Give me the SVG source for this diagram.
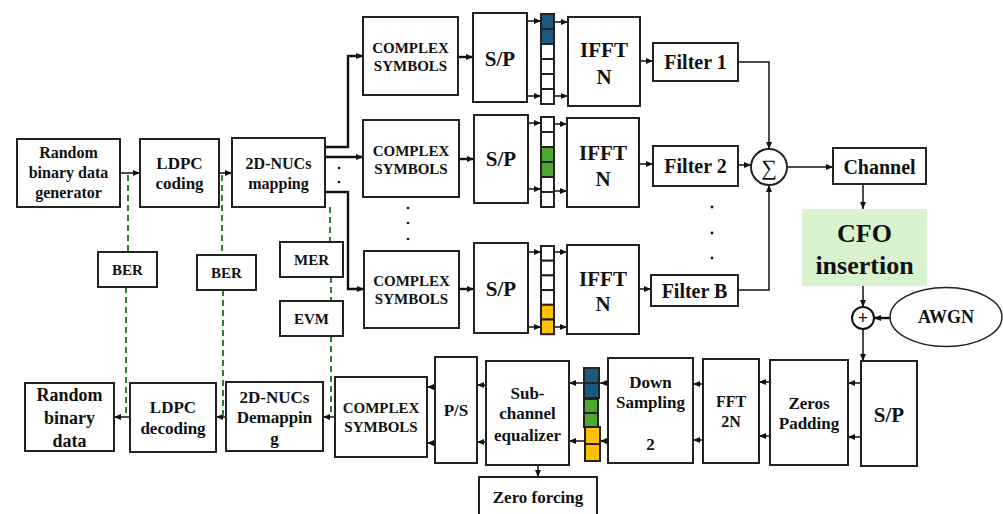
<svg xmlns="http://www.w3.org/2000/svg" width="1003" height="514" viewBox="0 0 1003 514">
<style>
.box{fill:#fff;stroke:#222;stroke-width:2}
.t{font-family:"Liberation Serif","Times New Roman",serif;font-weight:bold;fill:#111;text-anchor:middle}
.cs{font-size:15px}
.ln{stroke:#111;stroke-width:1.5;fill:none}
.thk{stroke-width:2.4}
.dash{stroke:#2e7d32;stroke-width:2;stroke-dasharray:6 4;fill:none}
.cell{stroke:#222;stroke-width:2;fill:#fff}
.blue{fill:#1b5a7e}
.green{fill:#4ea72e}
.yel{fill:#ffc000}
.dot{fill:#111}
</style>
<defs>
<marker id="a" markerUnits="userSpaceOnUse" markerWidth="8" markerHeight="8" refX="7" refY="4" orient="auto">
<path d="M0,1 L7,4 L0,7 z" fill="#111"/>
</marker>
</defs>

<g id="connectors">
<line class="ln" x1="120" y1="173" x2="140" y2="173" marker-end="url(#a)"/>
<line class="ln" x1="219" y1="173" x2="232" y2="173" marker-end="url(#a)"/>
<polyline class="ln thk" points="325,147 348,147 348,56 363,56" marker-end="url(#a)"/>
<line class="ln thk" x1="325" y1="157" x2="363" y2="157" marker-end="url(#a)"/>
<polyline class="ln thk" points="325,192 348,192 348,289 364,289" marker-end="url(#a)"/>
<line class="ln thk" x1="458" y1="57" x2="473" y2="57" marker-end="url(#a)"/>
<line class="ln thk" x1="459" y1="159" x2="474" y2="159" marker-end="url(#a)"/>
<line class="ln thk" x1="459" y1="289" x2="474" y2="289" marker-end="url(#a)"/>
<line class="ln" x1="527" y1="21" x2="541" y2="21" marker-end="url(#a)"/>
<line class="ln" x1="527" y1="96" x2="541" y2="96" marker-end="url(#a)"/>
<line class="ln" x1="528" y1="123" x2="541" y2="123" marker-end="url(#a)"/>
<line class="ln" x1="528" y1="189" x2="541" y2="189" marker-end="url(#a)"/>
<line class="ln" x1="528" y1="252" x2="541" y2="252" marker-end="url(#a)"/>
<line class="ln" x1="528" y1="327" x2="541" y2="327" marker-end="url(#a)"/>
<line class="ln" x1="554" y1="22" x2="568" y2="22" marker-end="url(#a)"/>
<line class="ln" x1="554" y1="96" x2="568" y2="96" marker-end="url(#a)"/>
<line class="ln" x1="554" y1="124" x2="567" y2="124" marker-end="url(#a)"/>
<line class="ln" x1="554" y1="191" x2="567" y2="191" marker-end="url(#a)"/>
<line class="ln" x1="554" y1="252" x2="567" y2="252" marker-end="url(#a)"/>
<line class="ln" x1="554" y1="327" x2="567" y2="327" marker-end="url(#a)"/>
<line class="ln" x1="640" y1="61" x2="653" y2="61" marker-end="url(#a)"/>
<line class="ln" x1="639" y1="164" x2="653" y2="164" marker-end="url(#a)"/>
<line class="ln" x1="639" y1="289" x2="651" y2="289" marker-end="url(#a)"/>
<polyline class="ln" points="738,62 769,62 769,149" marker-end="url(#a)"/>
<line class="ln" x1="738" y1="165" x2="751" y2="165" marker-end="url(#a)"/>
<polyline class="ln" points="738,290 769,290 769,185" marker-end="url(#a)"/>
<line class="ln" x1="787" y1="167" x2="833" y2="167" marker-end="url(#a)"/>
<line class="ln" x1="863" y1="184" x2="863" y2="209" marker-end="url(#a)"/>
<line class="ln" x1="863" y1="286" x2="863" y2="307" marker-end="url(#a)"/>
<line class="ln thk" x1="890" y1="318" x2="874" y2="318" marker-end="url(#a)"/>
<line class="ln" x1="863" y1="329" x2="863" y2="361" marker-end="url(#a)"/>
<line class="ln" x1="861" y1="383" x2="848" y2="383" marker-end="url(#a)"/>
<line class="ln" x1="861" y1="437" x2="848" y2="437" marker-end="url(#a)"/>
<line class="ln" x1="770" y1="382" x2="759" y2="382" marker-end="url(#a)"/>
<line class="ln" x1="770" y1="436" x2="759" y2="436" marker-end="url(#a)"/>
<line class="ln" x1="703" y1="384" x2="693" y2="384" marker-end="url(#a)"/>
<line class="ln" x1="703" y1="440" x2="693" y2="440" marker-end="url(#a)"/>
<line class="ln" x1="608" y1="383" x2="600" y2="383" marker-end="url(#a)"/>
<line class="ln" x1="608" y1="441" x2="600" y2="441" marker-end="url(#a)"/>
<line class="ln" x1="584" y1="383" x2="569" y2="383" marker-end="url(#a)"/>
<line class="ln" x1="584" y1="441" x2="569" y2="441" marker-end="url(#a)"/>
<line class="ln" x1="486" y1="385" x2="477" y2="385" marker-end="url(#a)"/>
<line class="ln" x1="486" y1="442" x2="477" y2="442" marker-end="url(#a)"/>
<line class="ln" x1="435" y1="387" x2="427" y2="387" marker-end="url(#a)"/>
<line class="ln" x1="435" y1="443" x2="427" y2="443" marker-end="url(#a)"/>
<line class="ln" x1="335" y1="417" x2="323" y2="417" marker-end="url(#a)"/>
<line class="ln" x1="226" y1="417" x2="216" y2="417" marker-end="url(#a)"/>
<line class="ln" x1="130" y1="417" x2="114" y2="417" marker-end="url(#a)"/>
<line class="ln" x1="538" y1="465" x2="538" y2="477" marker-end="url(#a)"/>
<line class="dash" x1="128" y1="175" x2="128" y2="252"/>
<line class="dash" x1="126" y1="287" x2="126" y2="416"/>
<line class="dash" x1="222" y1="175" x2="222" y2="255"/>
<line class="dash" x1="223" y1="290" x2="223" y2="416"/>
<line class="dash" x1="330" y1="207" x2="330" y2="242"/>
<line class="dash" x1="331" y1="277" x2="331" y2="301"/>
<line class="dash" x1="331" y1="336" x2="331" y2="416"/>
</g>

<g id="dots">
<circle class="dot" cx="339" cy="168" r="1.3"/><circle class="dot" cx="339" cy="182" r="1.3"/>
<circle class="dot" cx="408" cy="208" r="1.3"/><circle class="dot" cx="408" cy="223" r="1.3"/><circle class="dot" cx="408" cy="239" r="1.3"/>
<circle class="dot" cx="712" cy="207" r="1.4"/><circle class="dot" cx="712" cy="233" r="1.4"/><circle class="dot" cx="712" cy="258" r="1.4"/>
</g>

<g id="gen"><rect class="box" x="17" y="139" width="103" height="68"/>
<text class="t" font-size="16" x="68.5" y="158">Random</text><text class="t" font-size="16" x="68.5" y="178">binary data</text><text class="t" font-size="16" x="68.5" y="198">generator</text></g>
<g id="ldpc"><rect class="box" x="140" y="139" width="79" height="68"/>
<text class="t" font-size="17" x="179.5" y="169">LDPC</text><text class="t" font-size="17" x="179.5" y="189">coding</text></g>
<g id="map"><rect class="box" x="232" y="138" width="93" height="69"/>
<text class="t" font-size="16" x="278.5" y="169">2D-NUCs</text><text class="t" font-size="16" x="278.5" y="189">mapping</text></g>
<g id="ber1"><rect class="box" x="98" y="252" width="59" height="35"/><text class="t" font-size="15" x="127.5" y="275">BER</text></g>
<g id="ber2"><rect class="box" x="197" y="255" width="59" height="35"/><text class="t" font-size="15" x="226.5" y="278">BER</text></g>
<g id="mer"><rect class="box" x="280" y="242" width="63" height="35"/><text class="t" font-size="15" x="311.5" y="265">MER</text></g>
<g id="evm"><rect class="box" x="280" y="301" width="63" height="35"/><text class="t" font-size="15" x="311.5" y="324">EVM</text></g>

<g id="cs1"><rect class="box" x="363" y="17" width="95" height="78"/>
<text class="t cs" x="410.5" y="53">COMPLEX</text><text class="t cs" x="410.5" y="71">SYMBOLS</text></g>
<g id="sp1"><rect class="box" x="473" y="13" width="54" height="89"/><text class="t" font-size="21" x="500" y="66">S/P</text></g>
<g id="cells1">
<rect class="cell blue" x="541" y="14" width="13" height="15"/><rect class="cell blue" x="541" y="29" width="13" height="15"/>
<rect class="cell" x="541" y="44" width="13" height="15"/><rect class="cell" x="541" y="59" width="13" height="15"/>
<rect class="cell" x="541" y="74" width="13" height="15"/><rect class="cell" x="541" y="89" width="13" height="15"/></g>
<g id="ifft1"><rect class="box" x="568" y="17" width="72" height="89"/>
<text class="t" font-size="21" x="604" y="57">IFFT</text><text class="t" font-size="21" x="604" y="84">N</text></g>
<g id="f1"><rect class="box" x="653" y="43" width="85" height="38"/><text class="t" font-size="20" x="695.5" y="69">Filter 1</text></g>

<g id="cs2"><rect class="box" x="363" y="120" width="96" height="77"/>
<text class="t cs" x="411" y="156">COMPLEX</text><text class="t cs" x="411" y="174">SYMBOLS</text></g>
<g id="sp2"><rect class="box" x="474" y="115" width="54" height="88"/><text class="t" font-size="21" x="501" y="166">S/P</text></g>
<g id="cells2">
<rect class="cell" x="541" y="117" width="13" height="15"/><rect class="cell" x="541" y="132" width="13" height="15"/>
<rect class="cell green" x="541" y="147" width="13" height="15"/><rect class="cell green" x="541" y="162" width="13" height="15"/>
<rect class="cell" x="541" y="177" width="13" height="15"/><rect class="cell" x="541" y="192" width="13" height="15"/></g>
<g id="ifft2"><rect class="box" x="567" y="118" width="72" height="89"/>
<text class="t" font-size="21" x="603" y="160">IFFT</text><text class="t" font-size="21" x="603" y="186">N</text></g>
<g id="f2"><rect class="box" x="653" y="146" width="85" height="40"/><text class="t" font-size="20" x="695.5" y="173">Filter 2</text></g>

<g id="cs3"><rect class="box" x="364" y="251" width="95" height="77"/>
<text class="t cs" x="411.5" y="286">COMPLEX</text><text class="t cs" x="411.5" y="304">SYMBOLS</text></g>
<g id="sp3"><rect class="box" x="474" y="243" width="54" height="90"/><text class="t" font-size="21" x="501" y="296">S/P</text></g>
<g id="cells3">
<rect class="cell" x="541" y="246" width="13" height="14.7"/><rect class="cell" x="541" y="260.7" width="13" height="14.7"/>
<rect class="cell" x="541" y="275.4" width="13" height="14.7"/><rect class="cell" x="541" y="290.1" width="13" height="14.7"/>
<rect class="cell yel" x="541" y="304.8" width="13" height="14.7"/><rect class="cell yel" x="541" y="319.5" width="13" height="14.7"/></g>
<g id="ifft3"><rect class="box" x="567" y="245" width="72" height="89"/>
<text class="t" font-size="21" x="603" y="286">IFFT</text><text class="t" font-size="21" x="603" y="311">N</text></g>
<g id="fB"><rect class="box" x="651" y="275" width="87" height="31"/><text class="t" font-size="20" x="694.5" y="298">Filter B</text></g>

<g id="sum"><circle cx="769" cy="167" r="18" fill="#fff" stroke="#222" stroke-width="2"/>
<text x="769" y="175" font-family="'Liberation Serif',serif" font-size="22" text-anchor="middle" fill="#111">∑</text></g>
<g id="chan"><rect class="box" x="833" y="148" width="93" height="36"/><text class="t" font-size="20" x="879.5" y="174">Channel</text></g>
<g id="cfo"><rect x="802" y="209" width="125" height="77" fill="#d9f2d0"/>
<text class="t" font-size="26" x="864.5" y="242">CFO</text><text class="t" font-size="26" x="864.5" y="274">insertion</text></g>
<g id="plus"><circle cx="863" cy="318" r="11" fill="#fff" stroke="#111" stroke-width="2"/>
<text class="t" font-size="18" x="863" y="324">+</text></g>
<g id="awgn"><ellipse cx="946" cy="317" rx="56" ry="29.5" fill="#fff" stroke="#222" stroke-width="1.5"/>
<text class="t" font-size="18" x="946" y="323">AWGN</text></g>

<g id="sp4"><rect class="box" x="861" y="361" width="56" height="105"/><text class="t" font-size="21" x="889" y="422">S/P</text></g>
<g id="zp"><rect class="box" x="770" y="360" width="78" height="105"/>
<text class="t" font-size="17" x="809" y="409">Zeros</text><text class="t" font-size="17" x="809" y="429">Padding</text></g>
<g id="fft"><rect class="box" x="703" y="359" width="56" height="104"/>
<text class="t" font-size="16" x="731" y="407">FFT</text><text class="t" font-size="16" x="731" y="427">2N</text></g>
<g id="ds"><rect class="box" x="608" y="358" width="85" height="105"/>
<text class="t" font-size="17" x="650.5" y="388">Down</text><text class="t" font-size="17" x="650.5" y="408">Sampling</text><text class="t" font-size="17" x="650.5" y="450">2</text></g>
<g id="rcells">
<rect class="cell blue" x="584" y="368" width="15" height="15"/><rect class="cell blue" x="584" y="383" width="15" height="15"/>
<rect class="cell green" x="584" y="399" width="14" height="14"/><rect class="cell green" x="584" y="413" width="14" height="14"/>
<rect class="cell yel" x="585" y="427" width="15" height="17"/><rect class="cell yel" x="585" y="444" width="15" height="17"/></g>
<g id="eq"><rect class="box" x="486" y="361" width="83" height="104"/>
<text class="t" font-size="17" x="527.5" y="399">Sub-</text><text class="t" font-size="17" x="527.5" y="419">channel</text><text class="t" font-size="17" x="527.5" y="441">equalizer</text></g>
<g id="ps"><rect class="box" x="435" y="357" width="42" height="106"/><text class="t" font-size="17" x="456" y="416">P/S</text></g>
<g id="cs4"><rect class="box" x="335" y="377" width="92" height="80"/>
<text class="t cs" x="381" y="413">COMPLEX</text><text class="t cs" x="381" y="432">SYMBOLS</text></g>
<g id="zf"><rect class="box" x="479" y="477" width="118" height="42"/><text class="t" font-size="17" x="538" y="503">Zero forcing</text></g>
<g id="dem"><rect class="box" x="226" y="382" width="97" height="69"/>
<text class="t" font-size="17" x="274.5" y="403">2D-NUCs</text><text class="t" font-size="17" x="274.5" y="423">Demappin</text><text class="t" font-size="17" x="274.5" y="444">g</text></g>
<g id="ldec"><rect class="box" x="130" y="383" width="86" height="69"/>
<text class="t" font-size="17" x="173" y="413">LDPC</text><text class="t" font-size="17" x="173" y="434">decoding</text></g>
<g id="rbd"><rect class="box" x="25" y="383" width="89" height="68"/>
<text class="t" font-size="18" x="69.5" y="401">Random</text><text class="t" font-size="18" x="69.5" y="424">binary</text><text class="t" font-size="18" x="69.5" y="447">data</text></g>
</svg>
